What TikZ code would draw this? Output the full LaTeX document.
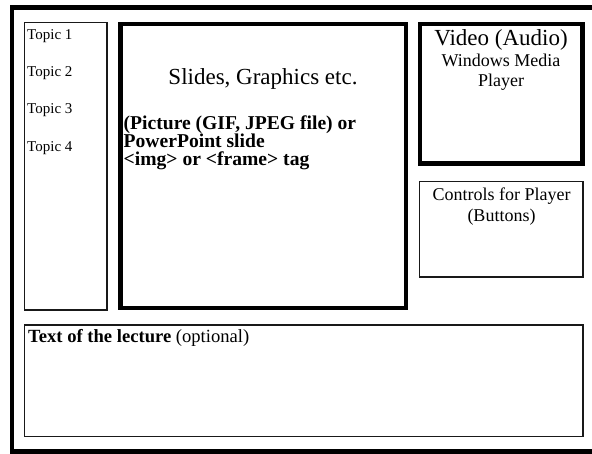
\documentclass[tikz,border=0pt]{standalone}
\usepackage{fontspec}
\setmainfont{Liberation Serif}
\tikzset{
  thickbox/.style={draw=black, line width=4.6pt},
  thinbox/.style={draw=black!90, line width=1.3pt},
  txt/.style={inner sep=0pt, anchor=base west},
  ctxt/.style={inner sep=0pt, anchor=base},
}
\begin{document}
\begin{tikzpicture}[x=1pt,y=-1pt]
\useasboundingbox (0,0) rectangle (592,454);
% outer frame (right side beyond the image)
\draw[line width=4.6pt] (12,7.5) rectangle (610,451.3);
% boxes
\draw[thinbox] (24.3,22.7) rectangle (107,310);
\draw[thickbox] (120.5,24) rectangle (406,308);
\draw[thickbox] (420,24) rectangle (582.5,163.5);
\draw[thinbox] (419.5,181.7) rectangle (583,277);
\draw[thinbox] (24.3,325) rectangle (583,436.7);
% topics
\node[txt, font=\fontsize{15}{15}\selectfont] (t1) at (27,40) {Topic 1};
\node[txt, font=\fontsize{15}{15}\selectfont] (t2) at (27,77) {Topic 2};
\node[txt, font=\fontsize{15}{15}\selectfont] (t3) at (27,114) {Topic 3};
\node[txt, font=\fontsize{15}{15}\selectfont] (t4) at (27,151.5) {Topic 4};
% slides
\node[ctxt, font=\fontsize{23}{23}\selectfont] (slides) at (263,85) {Slides, Graphics etc.};
\node[txt, font=\fontsize{19.6}{19.6}\selectfont\bfseries] (p1) at (123.5,129.5) {(Picture (GIF, JPEG file) or};
\node[txt, font=\fontsize{19.6}{19.6}\selectfont\bfseries] (p2) at (123.5,147.5) {PowerPoint slide};
\node[txt, font=\fontsize{19.6}{19.6}\selectfont\bfseries] (p3) at (123.5,165.5) {<img> or <frame> tag};
% video
\node[ctxt, font=\fontsize{23}{23}\selectfont] (video) at (501,46) {Video (Audio)};
\node[ctxt, font=\fontsize{18}{18}\selectfont] (wmp1) at (501,67) {Windows Media};
\node[ctxt, font=\fontsize{18}{18}\selectfont] (wmp2) at (501,86.5) {Player};
% controls
\node[ctxt, font=\fontsize{18}{18}\selectfont] (c1) at (501.5,201) {Controls for Player};
\node[ctxt, font=\fontsize{18}{18}\selectfont] (c2) at (501.5,222) {(Buttons)};
% lecture text
\node[txt, font=\fontsize{18.6}{18.6}\selectfont] (lect) at (28,343) {\textbf{Text of the lecture} (optional)};
\end{tikzpicture}
\end{document}
